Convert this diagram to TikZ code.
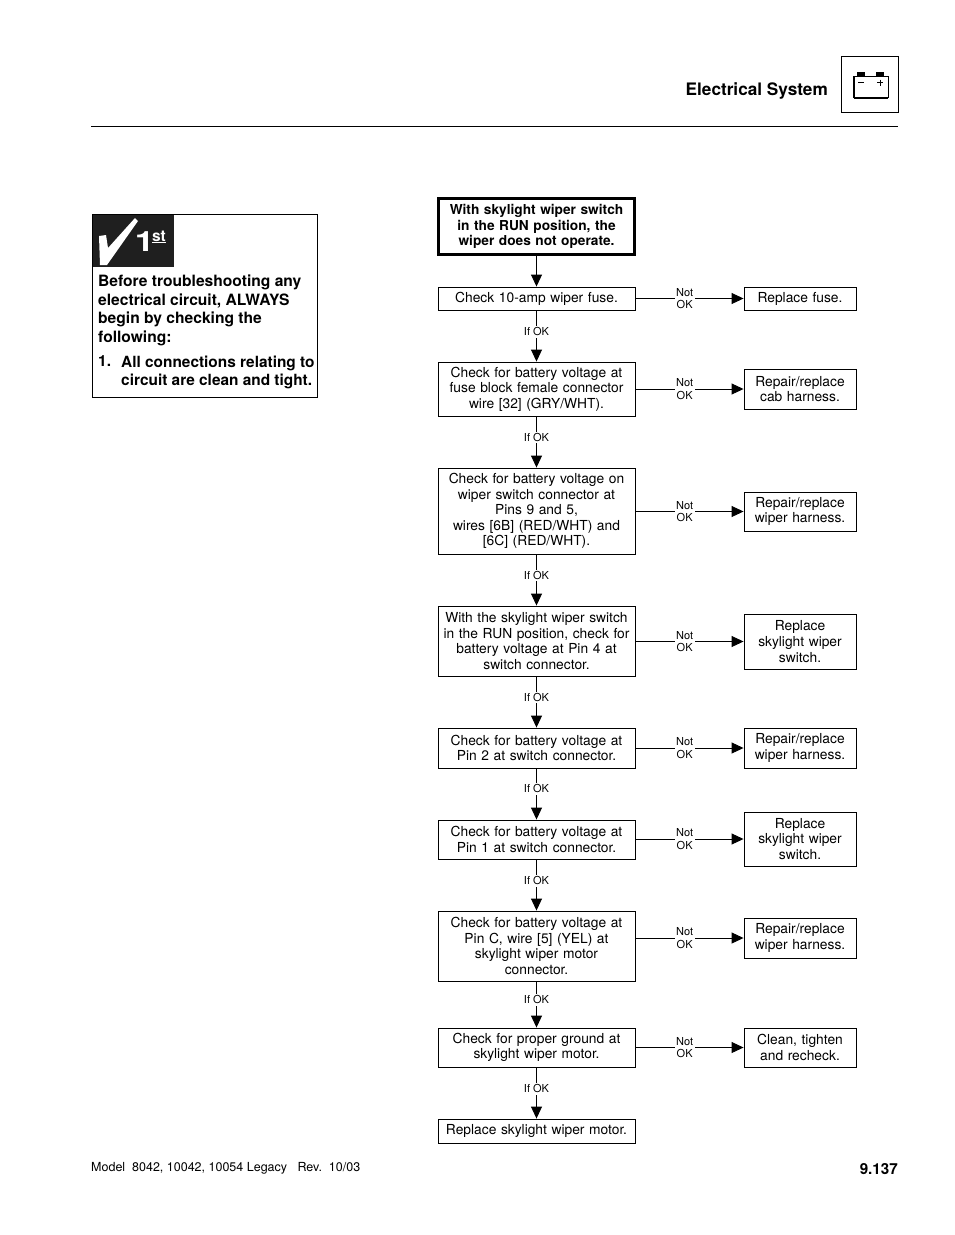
\documentclass[tikz,border=0pt]{standalone}
\usepackage{fontspec}
\setmainfont{TeX Gyre Heros}
\usetikzlibrary{arrows.meta}
\newcommand{\fsz}[2]{\fontsize{#1}{#2}\selectfont}
\tikzset{
 x=1pt,y=-1pt,
 boxbase/.style={draw=black,line width=0.9pt,inner sep=0pt,align=center,text width=#1,font=\fsz{13.8}{15.6}},
 lbox/.style={boxbase=195pt,minimum width=197pt},
 rbox/.style={boxbase=110pt,minimum width=112pt},
 startbox/.style={lbox,line width=3.3pt,minimum width=196pt,minimum height=56pt,font=\bfseries\fsz{13.7}{15.6}},
 flow/.style={draw=black,line width=0.9pt,-{Triangle[length=12pt,width=11pt]}},
 oklabel/.style={fill=white,inner sep=1.5pt,font=\fsz{11}{12.8},align=center},
}
\newcommand{\lb}[4]{\node[lbox,minimum height=#3pt] (#1) at (536.5,#2) {#4};}
\newcommand{\rb}[4]{\node[rbox,minimum height=#3pt] (#1) at (800,#2) {#4};}
\begin{document}
\begin{tikzpicture}
\useasboundingbox (0,0) rectangle (954,1235);
% header
\node[anchor=east,inner sep=0pt,font=\bfseries\fsz{17.2}{20}] (title) at (828,91) {Electrical System};
\node[draw,line width=0.9pt,minimum width=57pt,minimum height=56pt,inner sep=0pt] (icon) at (869.5,84) {};
\fill (857,72) rectangle (865,76);
\fill (876,72) rectangle (884,76);
\draw[line width=1pt] (853,98) -- (853,76) -- (888,76) -- (888,98);
\draw[line width=2pt] (853.5,97.5) -- (887.5,97.5);
\draw[line width=2pt] (853.5,76.5) -- (853.5,98);
\draw[line width=0.9pt] (858,82.5) -- (864,82.5) (877,82.5) -- (883,82.5) (880,79.5) -- (880,85.5);
\draw[line width=0.8pt] (91,126.5) -- (898,126.5);
% first-check panel
\draw[line width=1pt] (92.5,214.5) rectangle (317.5,397.5);
\fill[black!88] (93,215) rectangle (174,267);
\fill[white] (99,236) -- (106,235) -- (108,248) -- (135,218) -- (138,221) -- (107,265) -- (100,265) -- cycle;
\node[text=white,anchor=base,inner sep=0pt,xscale=1.25,font=\bfseries\fsz{28}{28}] (one) at (144.5,251) {1};
\node[text=white,anchor=base,inner sep=0pt,font=\bfseries\fsz{15.5}{15.5}] (st) at (159,241) {st};
\fill[white] (152,242.2) rectangle (166,243.4);
\node[anchor=north west,inner sep=0pt,align=left,font=\bfseries\fsz{15.6}{18.7}] (para) at (98,274.5) {Before troubleshooting any\\electrical circuit, ALWAYS\\begin by checking the\\following:};
\node[anchor=north west,inner sep=0pt,font=\bfseries\fsz{15.4}{18.7}] (num) at (98,355.5) {1.};
\node[anchor=north west,inner sep=0pt,align=left,font=\bfseries\fsz{15.4}{18.7}] (item) at (121,355.5) {All connections relating to\\circuit are clean and tight.};
% flow
\node[startbox] (s) at (536.5,226.5) {With skylight wiper switch\\in the RUN position, the\\wiper does not operate.};
\lb{a}{298.5}{23}{Check 10-amp wiper fuse.}
\lb{b}{389}{54}{Check for battery voltage at\\fuse block female connector\\wire [32] (GRY/WHT).}
\lb{c}{511}{86}{Check for battery voltage on\\wiper switch connector at\\Pins 9 and 5,\\wires [6B] (RED/WHT) and\\{}[6C] (RED/WHT).}
\lb{d}{641}{70}{With the skylight wiper switch\\in the RUN position, check for\\battery voltage at Pin 4 at\\switch connector.}
\lb{e}{748}{40}{Check for battery voltage at\\Pin 2 at switch connector.}
\lb{f}{839.5}{39}{Check for battery voltage at\\Pin 1 at switch connector.}
\lb{g}{946}{70}{Check for battery voltage at\\Pin C, wire [5] (YEL) at\\skylight wiper motor\\connector.}
\lb{h}{1047.5}{39}{Check for proper ground at\\skylight wiper motor.}
\lb{i}{1131}{24}{Replace skylight wiper motor.}
\rb{ra}{298.5}{23}{Replace fuse.}
\rb{rb}{389}{40}{Repair/replace\\cab harness.}
\rb{rc}{511.5}{39}{Repair/replace\\wiper harness.}
\rb{rd}{641.5}{55}{Replace\\skylight wiper\\switch.}
\rb{re}{748}{40}{Repair/replace\\wiper harness.}
\rb{rf}{839}{54}{Replace\\skylight wiper\\switch.}
\rb{rg}{938}{40}{Repair/replace\\wiper harness.}
\rb{rh}{1047.5}{39}{Clean, tighten\\and recheck.}
\draw[flow] (s) -- (a);
\draw[flow] (a) -- node[oklabel,pos=0.42] (ok1) {If OK} (b);
\draw[flow] (b) -- node[oklabel,pos=0.41] (ok2) {If OK} (c);
\draw[flow] (c) -- node[oklabel,pos=0.41] (ok3) {If OK} (d);
\draw[flow] (d) -- node[oklabel,pos=0.41] (ok4) {If OK} (e);
\draw[flow] (e) -- node[oklabel,pos=0.40] (ok5) {If OK} (f);
\draw[flow] (f) -- node[oklabel,pos=0.42] (ok6) {If OK} (g);
\draw[flow] (g) -- node[oklabel,pos=0.40] (ok7) {If OK} (h);
\draw[flow] (h) -- node[oklabel,pos=0.42] (ok8) {If OK} (i);
\foreach \l/\r/\n in {a/ra/1,b/rb/2,c/rc/3,d/rd/4,e/re/5,f/rf/6,h/rh/8}{
 \draw[flow] (\l.east |- \r.west) -- node[oklabel,pos=0.455] (no\n) {Not\\OK} (\r.west);
}
\draw[flow] (g.east |- rg.west) -- node[oklabel,pos=0.455] (no7) {Not\\OK} (rg.west);
% footer
\node[anchor=base west,inner sep=0pt,font=\fsz{12.5}{14}] (foot) at (91,1171.5) {Model\ \ 8042, 10042, 10054 Legacy\ \ \ Rev.\ \ 10/03};
\node[anchor=base east,inner sep=0pt,font=\bfseries\fsz{15.2}{17}] (page) at (898,1174) {9.137};
\end{tikzpicture}
\end{document}
